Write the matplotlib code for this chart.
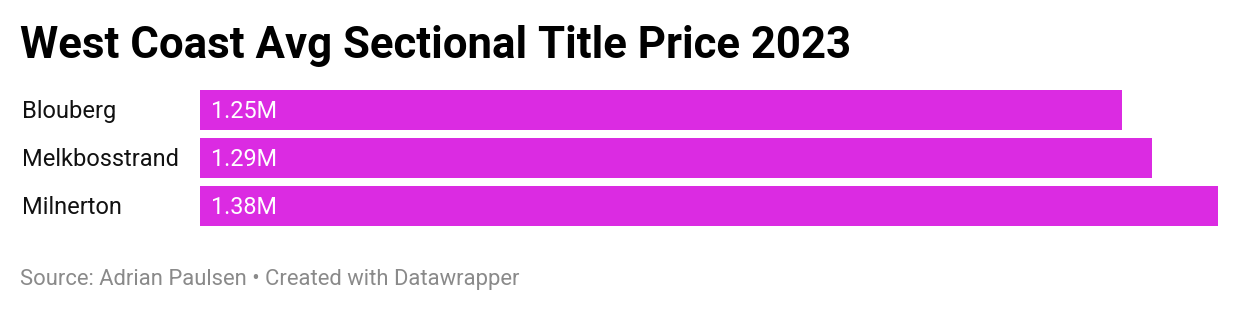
import matplotlib
matplotlib.use("Agg")
import matplotlib.pyplot as plt

categories = ["Blouberg", "Melkbosstrand", "Milnerton"]
values = [1.25, 1.29, 1.38]
value_labels = ["1.25M", "1.29M", "1.38M"]
title = "West Coast Avg Sectional Title Price 2023"
source = "Source: Adrian Paulsen • Created with Datawrapper"

W, H = 1240, 312
fig = plt.figure(figsize=(W / 100, H / 100), dpi=100)
fig.patch.set_facecolor("white")

ax = fig.add_axes([200 / W, 1 - 226 / H, 1018 / W, 136 / H])
bar_color = "#db2be2"
ypos = list(range(len(categories)))
ax.barh(ypos, values, height=40 / 48, color=bar_color, linewidth=0)
ax.set_xlim(0, max(values))
ax.set_ylim(2 + 20 / 48, -20 / 48)
ax.axis("off")

for y, lab in zip(ypos, value_labels):
    ax.annotate(lab, xy=(0, y), xycoords="data", xytext=(8, -1),
                textcoords="offset points", color="white", fontsize=16.8,
                family="Roboto", va="center", ha="left")

for y, cat in zip(ypos, categories):
    ax.annotate(cat, xy=(22 / W, y), xycoords=("figure fraction", "data"),
                xytext=(0, -1), textcoords="offset points",
                fontsize=17, family="Roboto", va="center", ha="left",
                color="#111111")

fig.text(20 / W, 1 - 58 / H, title, fontsize=31.5, fontweight="bold",
         family="Roboto", va="baseline", ha="left", color="black")
fig.text(20 / W, 1 - 285 / H, source, fontsize=15.8, family="Roboto",
         va="baseline", ha="left", color="#8a8a8a")

fig.savefig("out.png", dpi=100, facecolor="white")
